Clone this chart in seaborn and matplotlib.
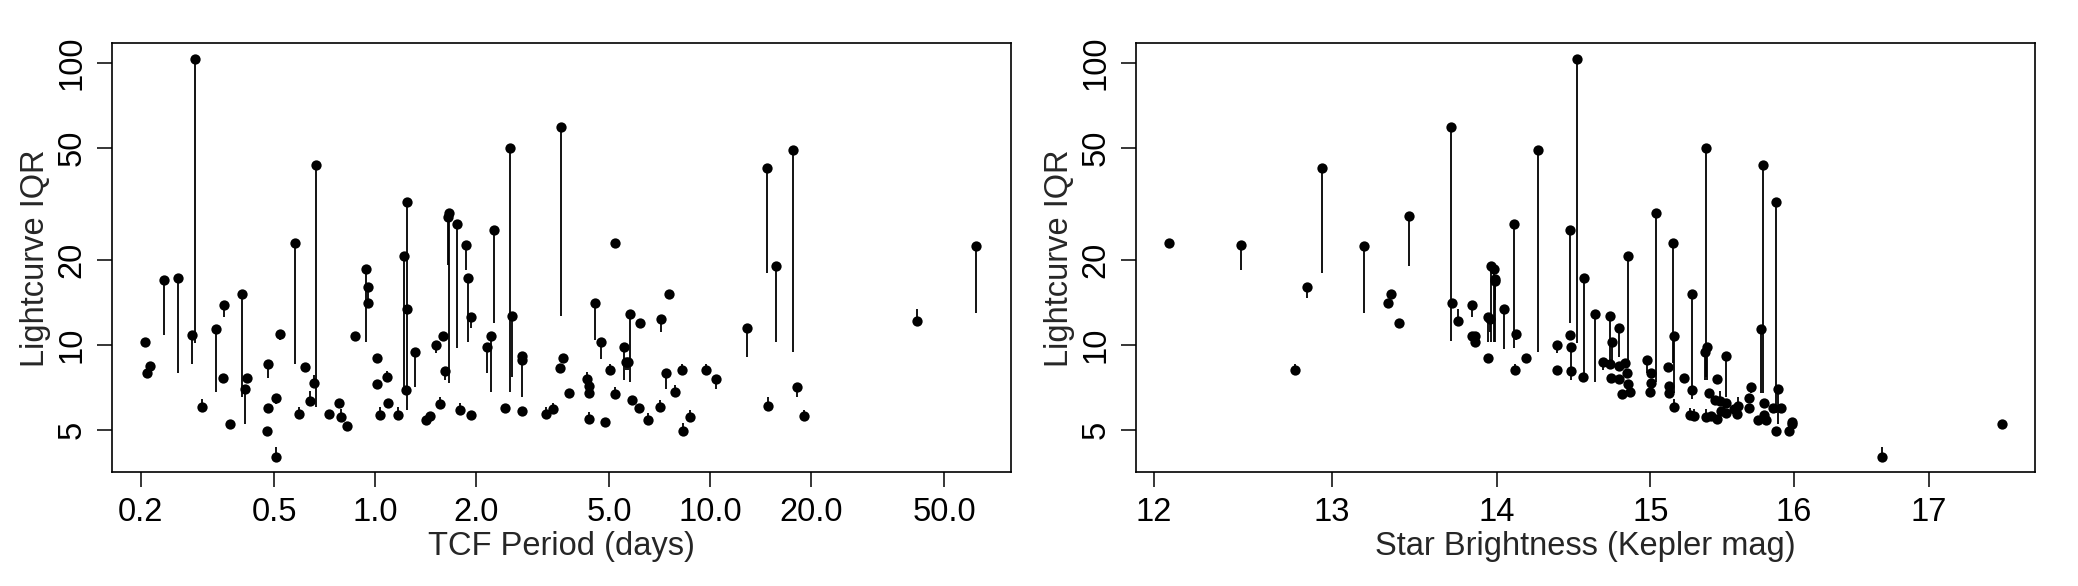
import matplotlib
matplotlib.use("Agg")
import matplotlib.pyplot as plt
import seaborn as sns
from matplotlib.ticker import NullLocator

# left panel: TCF period vs lightcurve IQR (point, and other end of the line)
period = [0.206, 0.213, 0.209, 0.234, 0.258, 0.290, 0.284, 0.305, 0.336, 0.354,
          0.353, 0.369, 0.401, 0.414, 0.410, 0.479, 0.522, 0.479, 0.507, 0.477,
          0.506, 0.579, 0.617, 0.667, 0.658, 0.639, 0.595, 0.730, 0.780, 0.794,
          0.825, 0.872, 0.941, 0.952, 0.954, 1.015, 1.085, 1.013, 1.097, 1.036,
          1.172, 1.219, 1.249, 1.244, 1.238, 1.315, 1.519, 1.597, 1.623, 1.664,
          1.656, 1.567, 1.420, 1.463, 1.762, 1.866, 1.892, 1.940, 1.791, 1.940,
          2.263, 2.221, 2.157, 2.571, 2.536, 2.451, 2.754, 2.754, 2.754, 3.249,
          3.395, 3.601, 3.562, 3.651, 3.805, 4.356, 4.306, 4.356, 4.356, 4.549,
          4.731, 5.209, 4.873, 5.032, 5.199, 5.541, 5.607, 5.707, 5.787, 6.196,
          5.843, 6.154, 6.535, 7.132, 7.565, 7.412, 7.112, 7.867, 8.254, 8.312,
          8.720, 9.756, 10.43, 12.90, 14.91, 14.80, 17.73, 15.70, 18.16, 19.13,
          41.51, 62.49]
iqr_p = [10.24, 8.445, 7.958, 17.02, 17.30, 102.8, 10.87, 6.046, 11.42, 13.88,
         7.658, 5.265, 15.15, 7.658, 7.003, 8.564, 10.96, 5.983, 6.490, 4.972,
         4.023, 22.96, 8.356, 43.35, 7.354, 6.350, 5.709, 5.709, 6.246, 5.572,
         5.180, 10.78, 18.62, 16.04, 14.08, 9.015, 7.720, 7.311, 6.246, 5.664,
         5.664, 20.70, 32.06, 13.41, 6.944, 9.467, 10.00, 10.78, 8.107, 29.31,
         28.51, 6.210, 5.425, 5.632, 26.80, 22.59, 17.30, 12.59, 5.916, 5.650,
         25.52, 10.78, 9.884, 12.69, 49.90, 5.998, 9.185, 8.870, 5.852, 5.724,
         5.934, 59.07, 8.309, 9.015, 6.794, 5.483, 7.578, 7.193, 6.794, 14.11,
         10.24, 22.96, 5.351, 8.196, 6.740, 9.861, 8.727, 8.690, 12.90, 11.99,
         6.402, 5.983, 5.439, 12.39, 15.15, 7.980, 6.046, 6.833, 8.177, 4.984,
         5.572, 8.177, 7.596, 11.51, 6.097, 42.30, 48.98, 19.08, 7.100, 5.619,
         12.19, 22.46]
iqr_p_end = [10.24, 8.445, 7.958, 10.87, 7.98, 10.16, 8.585, 6.452, 6.833, 12.59,
             7.658, 5.265, 6.577, 7.658, 5.265, 7.658, 10.44, 5.983, 6.195, 4.972,
             4.375, 8.564, 8.356, 6.032, 7.849, 6.907, 6.06, 5.709, 6.246, 5.949,
             5.18, 10.78, 10.29, 14.46, 14.08, 9.015, 8.128, 7.311, 6.246, 6.046,
             6.046, 6.848, 5.90, 13.41, 6.668, 7.10, 9.412, 10.78, 7.534, 7.371,
             19.24, 6.561, 5.425, 5.632, 9.80, 18.47, 10.29, 11.51, 6.246, 5.65,
             12.02, 6.817, 7.997, 7.70, 6.848, 5.998, 6.544, 8.87, 5.852, 6.046,
             6.246, 12.69, 8.309, 9.015, 6.794, 5.804, 8.043, 7.193, 6.794, 10.44,
             8.92, 22.96, 5.351, 8.585, 7.117, 7.534, 8.177, 8.177, 7.43, 11.99,
             6.402, 5.983, 5.74, 11.17, 14.58, 6.987, 6.402, 7.234, 8.585, 5.321,
             5.90, 8.585, 7.003, 9.067, 6.544, 18.07, 9.443, 10.27, 6.577, 5.90,
             13.41, 13.04]

# right panel: Kepler magnitude vs lightcurve IQR
kepler_mag = [12.081, 12.476, 12.783, 12.856, 12.943, 13.190, 13.333, 13.349, 13.397, 13.459,
              13.711, 13.717, 13.757, 13.845, 13.843, 13.864, 13.862, 13.941, 13.958, 13.944,
              13.962, 13.983, 13.987, 13.989, 14.044, 14.109, 14.120, 14.117, 14.186, 14.261,
              14.384, 14.384, 14.465, 14.467, 14.474, 14.474, 14.510, 14.559, 14.553, 14.629,
              14.684, 14.732, 14.745, 14.790, 14.732, 14.787, 14.832, 14.843, 14.739, 14.787,
              14.850, 14.810, 14.861, 14.847, 14.975, 15.006, 15.006, 14.997, 15.037, 15.122,
              15.123, 15.126, 15.151, 15.162, 15.162, 15.225, 15.285, 15.285, 15.266, 15.294,
              15.370, 15.384, 15.378, 15.377, 15.403, 15.416, 15.456, 15.453, 15.439, 15.474,
              15.518, 15.516, 15.486, 15.520, 15.571, 15.602, 15.597, 15.681, 15.679, 15.695,
              15.744, 15.787, 15.801, 15.763, 15.787, 15.777, 15.871, 15.886, 15.852, 15.907,
              15.873, 15.984, 15.987, 15.962, 16.648, 17.565]
iqr_m = [22.96, 22.64, 8.177, 16.04, 42.40, 22.40, 14.08, 15.15, 11.96, 28.68,
         59.21, 14.11, 12.19, 13.85, 10.78, 10.78, 10.27, 12.59, 12.36, 9.015,
         19.08, 18.62, 17.20, 16.88, 13.41, 26.86, 10.96, 8.177, 9.015, 49.10,
         10.00, 8.177, 25.58, 10.87, 9.861, 8.107, 102.8, 17.26, 7.720, 12.90,
         8.705, 12.69, 10.27, 11.51, 8.585, 8.445, 8.635, 7.958, 7.639, 7.596,
         7.293, 6.724, 6.833, 20.70, 8.870, 7.980, 7.371, 6.817, 29.38, 8.377,
         7.193, 6.794, 22.96, 10.78, 6.046, 7.658, 15.18, 6.944, 5.664, 5.605,
         9.467, 9.861, 49.90, 5.559, 6.794, 5.619, 5.470, 7.596, 6.402, 6.350,
         9.162, 6.230, 5.852, 5.743, 5.964, 6.111, 5.709, 5.983, 6.490, 7.117,
         5.439, 5.664, 5.439, 11.42, 6.246, 43.35, 32.06, 7.003, 5.983, 5.983,
         4.972, 5.364, 5.265, 4.972, 4.023, 5.252]
iqr_m_end = [22.96, 18.47, 8.585, 14.66, 18.07, 13.04, 14.08, 15.15, 11.96, 19.12,
             10.38, 14.11, 13.41, 12.62, 10.78, 10.78, 10.27, 10.29, 11.17, 9.015,
             10.29, 10.29, 14.46, 10.29, 9.70, 9.80, 10.44, 8.585, 9.015, 9.467,
             9.366, 8.177, 12.02, 10.87, 8.177, 7.534, 10.16, 7.70, 7.720, 7.43,
             8.177, 8.585, 8.87, 9.067, 8.585, 8.445, 8.635, 7.958, 7.639, 7.596,
             7.293, 6.724, 6.833, 8.635, 7.958, 7.980, 7.371, 6.817, 7.43, 8.377,
             7.193, 6.794, 8.635, 6.794, 6.44, 7.658, 6.944, 6.44, 5.998, 5.949,
             7.534, 7.534, 7.739, 5.93, 6.794, 5.619, 5.470, 7.276, 6.402, 6.907,
             6.577, 6.230, 5.852, 5.743, 5.964, 6.577, 5.709, 5.983, 6.490, 6.778,
             5.439, 5.664, 5.439, 6.761, 6.246, 6.794, 5.743, 5.265, 5.983, 5.983,
             4.972, 5.364, 5.265, 4.972, 4.375, 5.252]

period_ticks = [0.2, 0.5, 1.0, 2.0, 5.0, 10.0, 20.0, 50.0]
period_labels = ["0.2", "0.5", "1.0", "2.0", "5.0", "10.0", "20.0", "50.0"]
mag_ticks = [12, 13, 14, 15, 16, 17]
mag_labels = ["12", "13", "14", "15", "16", "17"]
iqr_ticks = [5, 10, 20, 50, 100]
iqr_labels = ["5", "10", "20", "50", "100"]

sns.set_style("ticks")
plt.rcParams["font.family"] = ["Liberation Sans", "DejaVu Sans"]
plt.rcParams["axes.edgecolor"] = "black"

FS = 23.5

fig = plt.figure(figsize=(20.78, 5.86), dpi=100)
ax1 = fig.add_axes([0.05404, 0.19403, 0.43263, 0.73174])
ax2 = fig.add_axes([0.54668, 0.19403, 0.43258, 0.73174])


def panel(ax, x, y, yend, xticks, xlabels, xlim, xlabel):
    ax.set_xscale("log")
    ax.set_yscale("log")
    ax.vlines(x, y, yend, color="black", linewidth=1.3, zorder=2)
    sns.scatterplot(x=x, y=y, ax=ax, color="black", s=55, linewidth=0,
                    zorder=3, legend=False)
    ax.set_xlim(*xlim)
    ax.set_ylim(3.55, 117)
    ax.set_xticks(xticks)
    ax.set_xticklabels(xlabels)
    ax.set_yticks(iqr_ticks)
    ax.set_yticklabels(iqr_labels, rotation=90, va="center")
    ax.xaxis.set_minor_locator(NullLocator())
    ax.yaxis.set_minor_locator(NullLocator())
    ax.tick_params(length=10.8, width=1.1, labelsize=FS, pad=7,
                   direction="out", color="black", labelcolor="black")
    for sp in ax.spines.values():
        sp.set_visible(True)
        sp.set_linewidth(1.2)
        sp.set_color("black")
    ax.set_xlabel(xlabel, fontsize=FS, labelpad=2)
    ax.set_ylabel("Lightcurve IQR", fontsize=FS, labelpad=4)


panel(ax1, period, iqr_p, iqr_p_end, period_ticks, period_labels,
      (0.1644, 79.4), "TCF Period (days)")
panel(ax2, kepler_mag, iqr_m, iqr_m_end, mag_ticks, mag_labels,
      (11.903, 17.83), "Star Brightness (Kepler mag)")

fig.savefig("out.png", dpi=100)
